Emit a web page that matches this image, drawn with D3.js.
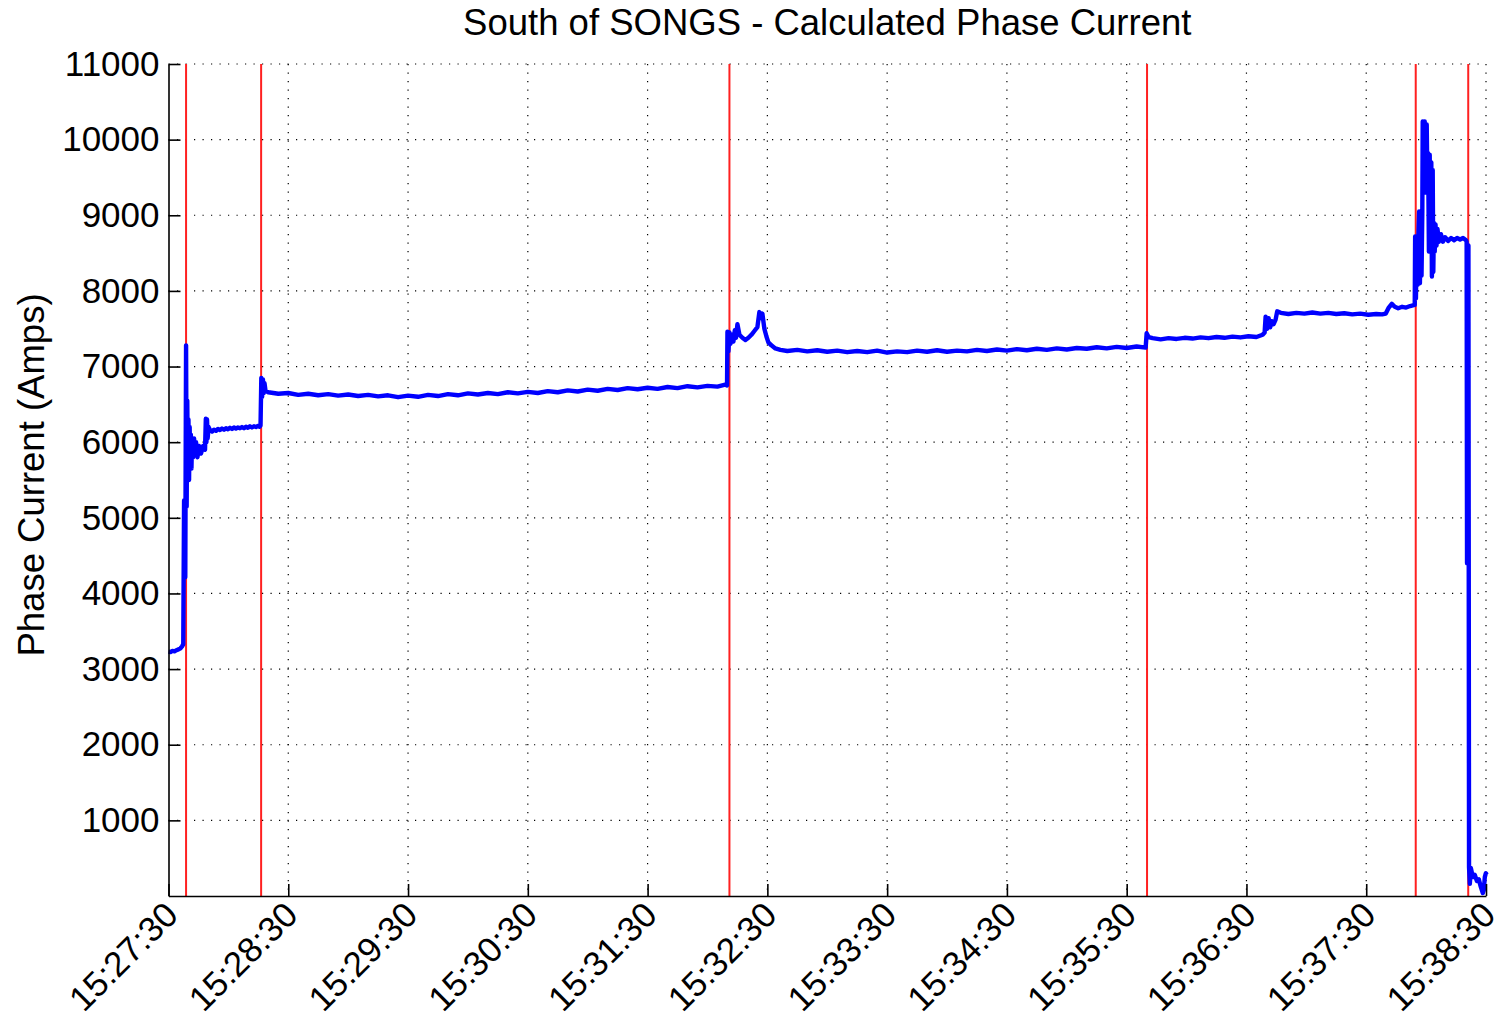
<!DOCTYPE html>
<html>
<head>
<meta charset="utf-8">
<script src="https://cdn.jsdelivr.net/npm/d3@7"></script>
<style>
  body { margin: 0; background: #fff; }
  svg { display: block; }
  text { font-family: "Liberation Sans", Arial, sans-serif; fill: #000; }
</style>
</head>
<body>
<div id="viz-container"></div>
<script>
// [seconds after 15:27:30, amps], one array per stretch
const beforeFault = [
  [0, 3230], [1, 3225], [2, 3240], [3, 3235], [4, 3250], [5, 3260], [6, 3275], [6.8, 3300], [7.4, 3330]
];
const firstSwing = [
  [7.8, 5230], [8.1, 4800], [8.4, 4215], [8.8, 7280], [9.1, 5150], [9.4, 6550], [9.7, 5600], [10.0, 6300],
  [10.3, 5500], [10.6, 6200], [10.9, 5700], [11.2, 6100], [11.5, 5650], [11.8, 6050], [12.3, 5800], [12.8, 6050],
  [13.3, 5850], [13.8, 6000], [14.5, 5800], [15.3, 5950], [16.3, 5850], [17.3, 5950], [18.3, 5900],
  [18.7, 6310], [19.0, 6000], [19.3, 6300], [19.6, 6050], [20.1, 6200]
];
const firstStep = [
  [20.8, 6160], [21.8, 6140], [22.8, 6165], [23.8, 6150], [24.8, 6175], [25.8, 6160], [26.8, 6180], [27.8, 6165],
  [28.8, 6185], [29.8, 6170], [30.8, 6190], [31.8, 6175], [32.8, 6195], [33.8, 6180], [34.8, 6195], [35.8, 6185],
  [36.8, 6200], [37.8, 6185], [38.8, 6205], [39.8, 6190], [40.8, 6210], [41.8, 6195], [42.8, 6210], [43.8, 6200],
  [44.8, 6215], [45.6, 6205], [46.1, 6220]
];
const secondStep = [
  [46.5, 6850], [46.9, 6600], [47.3, 6830], [47.7, 6650], [48.1, 6780], [48.6, 6680],
  [50, 6660], [55, 6640], [60, 6650], [65, 6625], [70, 6640], [75, 6620], [80, 6635], [85, 6615],
  [90, 6630], [95, 6610], [100, 6625], [105, 6605], [110, 6620], [115, 6595], [120, 6615], [125, 6600],
  [130, 6625], [135, 6610], [140, 6635], [145, 6620], [150, 6645], [155, 6630], [160, 6650], [165, 6635],
  [170, 6660], [175, 6645], [180, 6665], [185, 6650], [190, 6675], [195, 6660], [200, 6685], [205, 6670],
  [210, 6695], [215, 6680], [220, 6705], [225, 6690], [230, 6715], [235, 6700], [240, 6720], [245, 6705],
  [250, 6730], [255, 6715], [260, 6740], [265, 6725], [270, 6745], [275, 6735], [278.9, 6760], [279.8, 6750]
];
const thirdStep = [
  [280.0, 7460], [280.5, 7200], [281.0, 7450], [281.5, 7300], [282.2, 7420], [283.0, 7330], [283.7, 7480],
  [284.3, 7380], [285.0, 7560], [286.0, 7420], [287.5, 7380], [289.0, 7350], [290.5, 7380], [292.0, 7420],
  [293.5, 7470], [295.0, 7520], [296.0, 7720], [297.0, 7640], [297.5, 7700], [298.5, 7500], [299.5, 7400],
  [300.5, 7320], [302.0, 7280], [304.0, 7240],
  [306.5, 7220], [310, 7205], [315, 7220], [320, 7200], [325, 7215], [330, 7195], [335, 7210], [340, 7190],
  [345, 7205], [350, 7190], [355, 7210], [360, 7185], [365, 7200], [370, 7190], [375, 7210], [380, 7195],
  [385, 7215], [390, 7195], [395, 7210], [400, 7200], [405, 7220], [410, 7205], [415, 7225], [420, 7210],
  [425, 7230], [430, 7215], [435, 7235], [440, 7220], [445, 7240], [450, 7225], [455, 7245], [460, 7235],
  [465, 7255], [470, 7240], [475, 7260], [480, 7245], [485, 7265], [489.5, 7250]
];
const fourthStep = [
  [490, 7440], [491, 7390], [493, 7375], [497, 7360], [501, 7375], [505, 7365], [509, 7380], [513, 7370],
  [517, 7385], [521, 7375], [525, 7390], [529, 7380], [533, 7395], [537, 7385], [541, 7400], [545, 7390],
  [548.1, 7420], [549.1, 7450],
  [549.6, 7660], [550.4, 7500], [551.1, 7640], [551.9, 7520], [552.6, 7600], [553.6, 7560], [554.6, 7620],
  [555.4, 7730], [557.2, 7710], [561, 7695], [565, 7710], [569, 7700], [573, 7715], [577, 7700], [581, 7710],
  [585, 7695], [589, 7705], [593, 7690], [597, 7700], [601, 7685], [605, 7695], [608, 7690], [609.8, 7700],
  [611.3, 7780], [612.8, 7830], [614.3, 7790], [616, 7770], [618, 7790], [620, 7780], [622, 7800], [624.3, 7814]
];
const lastSwing = [
  [624.5, 8720], [624.9, 7900], [625.3, 8700], [625.7, 8080], [626.1, 8700], [626.5, 9050], [626.9, 8100],
  [627.3, 9000], [627.7, 8200], [628.1, 9050], [628.3, 10240], [628.8, 9300], [629.3, 10240], [629.8, 9300],
  [630.3, 10200], [630.7, 9300], [631.0, 9820], [631.4, 8520], [631.8, 9800], [632.2, 8550], [632.6, 9700],
  [632.9, 8190], [633.3, 9600], [633.6, 8250], [633.9, 8900], [634.3, 8520], [634.7, 8880], [635.2, 8600],
  [635.7, 8820], [636.4, 8650], [637.4, 8750], [638.4, 8650], [639.5, 8710], [641, 8660], [642.5, 8700],
  [644, 8670], [645.5, 8700], [647, 8680], [648.5, 8700], [650, 8670], [650.3, 8650]
];
const tripOut = [
  [650.5, 4400], [650.8, 8600], [651.2, 8600], [651.5, 380], [651.9, 160], [652.4, 370], [653.4, 250],
  [654.4, 280], [655.4, 200], [656.4, 220], [657.4, 120], [658.4, 40], [658.9, 80], [659.4, 250],
  [659.9, 300], [660.4, 280]
];
// red event markers, seconds after 15:27:30
const eventSeconds = [8.8, 46.4, 281.0, 490.2, 624.8, 651.1];
const yTicks = [1000, 2000, 3000, 4000, 5000, 6000, 7000, 8000, 9000, 10000, 11000];
const xTickMinutes = [0, 1, 2, 3, 4, 5, 6, 7, 8, 9, 10, 11];

const margin = {top: 64, right: 13, bottom: 116, left: 168.5};
const width = 1499 - margin.left - margin.right;
const height = 1012 - margin.top - margin.bottom;

const t0 = new Date(2000, 0, 1, 15, 27, 30);
const at = s => new Date(t0.getTime() + s * 1000);

const svg = d3.select('#viz-container')
  .append('svg')
  .attr('width', 1499)
  .attr('height', 1012);
const g = svg.append('g')
  .attr('transform', `translate(${margin.left},${margin.top})`);

const x = d3.scaleTime()
  .domain([t0, at(660)])
  .range([0, width]);
const y = d3.scaleLinear()
  .domain([0, 11000])
  .range([height, 0]);

const xTickDates = xTickMinutes.map(m => at(m * 60));

// dotted grid
g.append('g')
  .selectAll('line')
  .data(yTicks)
  .join('line')
  .attr('x1', 0).attr('x2', width)
  .attr('y1', d => y(d)).attr('y2', d => y(d))
  .attr('stroke', '#000').attr('stroke-width', 1.2)
  .attr('stroke-dasharray', '1.2,7.3');
g.append('g')
  .selectAll('line')
  .data(xTickDates.slice(1))
  .join('line')
  .attr('x1', d => x(d)).attr('x2', d => x(d))
  .attr('y1', 0).attr('y2', height)
  .attr('stroke', '#000').attr('stroke-width', 1.2)
  .attr('stroke-dasharray', '1.2,7.3');

// event markers
g.append('g')
  .selectAll('line')
  .data(eventSeconds)
  .join('line')
  .attr('x1', d => x(at(d))).attr('x2', d => x(at(d)))
  .attr('y1', 0).attr('y2', height)
  .attr('stroke', '#ff2020').attr('stroke-width', 2);

// current trace
const trace = [beforeFault, firstSwing, firstStep, secondStep, thirdStep, fourthStep, lastSwing, tripOut]
  .flat()
  .map(([s, v]) => ({date: at(s), value: v}));
g.append('path')
  .datum(trace)
  .attr('fill', 'none')
  .attr('stroke', '#0000ff')
  .attr('stroke-width', 4.4)
  .attr('stroke-linejoin', 'round')
  .attr('d', d3.line().x(d => x(d.date)).y(d => y(d.value)));

// axes
const xAxis = g.append('g')
  .attr('transform', `translate(0,${height})`)
  .call(d3.axisBottom(x)
    .tickValues(xTickDates)
    .tickFormat(d3.timeFormat('%H:%M:%S'))
    .tickSizeInner(-12).tickSizeOuter(0));
xAxis.selectAll('text')
  .attr('x', 0).attr('y', 0).attr('dy', 0)
  .attr('transform', 'translate(11,21) rotate(-45)')
  .style('text-anchor', 'end')
  .style('font-size', '35px');

const yAxis = g.append('g')
  .call(d3.axisLeft(y)
    .tickValues(yTicks)
    .tickFormat(d3.format('d'))
    .tickSizeInner(-12).tickSizeOuter(0));
yAxis.selectAll('text')
  .attr('x', -9)
  .style('font-size', '35px');

svg.selectAll('.domain, .tick line')
  .attr('stroke', '#000')
  .attr('stroke-width', 1.6);

svg.append('text')
  .attr('x', margin.left + width / 2)
  .attr('y', 35)
  .style('text-anchor', 'middle')
  .style('font-size', '36.5px')
  .text('South of SONGS - Calculated Phase Current');

svg.append('text')
  .attr('transform', `translate(44, 475) rotate(-90)`)
  .style('text-anchor', 'middle')
  .style('font-size', '36.5px')
  .text('Phase Current (Amps)');
</script>
</body>
</html>
